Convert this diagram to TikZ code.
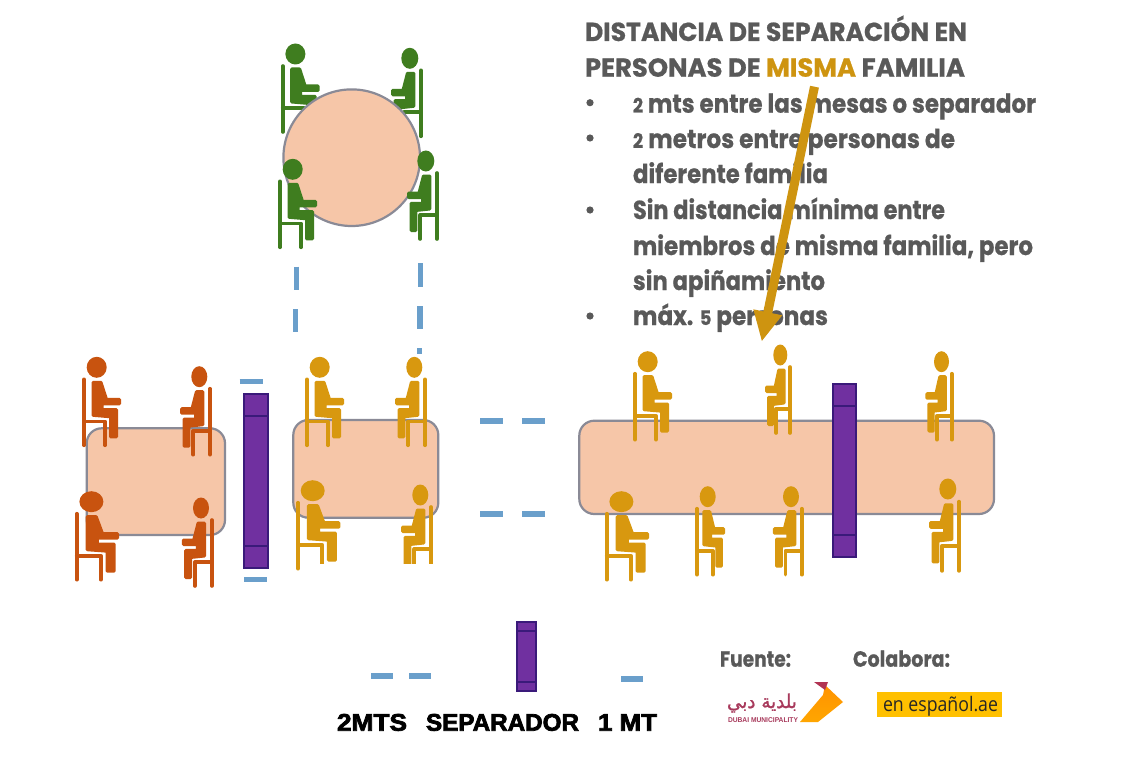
\documentclass[tikz,border=0pt]{standalone}
\usepackage{fontspec}
\usepackage{graphicx}
\usetikzlibrary{arrows.meta}
\TeXXeTstate=1
\newfontfamily\hfont{Poppins}[BoldFont={Poppins Bold},BoldFeatures={FakeBold=0.7}]
\newfontfamily\legfont{Liberation Sans}[BoldFont={Liberation Sans Bold},BoldFeatures={FakeBold=3}]
\newfontfamily\smallfont{Liberation Sans}[BoldFont={Liberation Sans Bold}]
\newfontfamily\arabfont[Script=Arabic,FakeBold=1]{DejaVu Sans}
\newfontfamily\espfont{Open Sans}
\definecolor{txtgrey}{HTML}{595959}
\definecolor{gold}{HTML}{CE9410}
\definecolor{pyellow}{HTML}{D8980F}
\definecolor{porange}{HTML}{C8530F}
\definecolor{pgreen}{HTML}{3F7D1F}
\definecolor{tablefill}{HTML}{F6C6A8}
\definecolor{tableedge}{HTML}{8A8A96}
\definecolor{sepfill}{HTML}{7030A0}
\definecolor{sepedge}{HTML}{3A1A7A}
\definecolor{dashblue}{HTML}{6A9FCB}
\definecolor{dubai}{HTML}{A83A5C}
\tikzset{
  tablebox/.style={draw=tableedge,fill=tablefill,line width=2.2pt,rounded corners=15pt},
  tableround/.style={draw=tableedge,fill=tablefill,line width=2.2pt},
  sepbox/.style={draw=sepedge,fill=sepfill,line width=2pt},
  sepline/.style={draw=sepedge,line width=2pt},
  gap/.style={draw=dashblue,line width=5.5pt},
  txtline/.style={anchor=base west,inner sep=0pt,outer sep=0pt},
  chairline/.style={line width=3.6pt,line cap=round,line join=round},
  bodyfill/.style={line join=round,line width=3pt},
}
% chair x, head y, colour, direction, head rx, x scale, y scale
\newcommand\person[7]{%
  \begin{scope}[shift={(#1,#2)}]
    \fill[#3] (#4*#5+#4*2.7,0) ellipse [x radius=#5pt,y radius=10.5pt];
    \begin{scope}[xscale=#4*#6,yscale=#7]
      \draw[#3,chairline] (0,12)--(0,78);
      \draw[#3,chairline] (0,54)--(21,54)--(21,78);
      \filldraw[#3,bodyfill] (9,15)--(17,15)--(22.5,32)--(35.5,32)--(35.5,36.5)--(18,36.5)--(18,42.3)--(32.5,42.3)--(32.5,69.5)--(26.5,69.5)--(26.5,49.5)--(9,48)--cycle;
    \end{scope}
  \end{scope}}
\newcommand\sepbar[5]{% x1 x2 y1 y2 inset
  \draw[sepbox] (#1,#3) rectangle (#2,#4);
  \draw[sepline] (#1,#3+#5)--(#2,#3+#5);
  \draw[sepline] (#1,#4-#5)--(#2,#4-#5);}
\newcommand\fit[2]{\resizebox{#1pt}{\height}{#2}}
\newcommand\hdig[1]{{\fontsize{20}{20}\selectfont #1}}
\begin{document}
\begin{tikzpicture}[x=1pt,y=-1pt]
\useasboundingbox (0,0) rectangle (1135,757);
\fill[white] (0,0) rectangle (1135,757);

% round table group
\person{282.7}{54}{pgreen}{1}{10}{1}{1}
\person{421}{58.3}{pgreen}{-1}{8.5}{.8}{1}
\draw[tableround] (351.7,157.7) circle [radius=68.3];
\person{280}{169.3}{pgreen}{1}{10}{1}{1}
\person{437}{161}{pgreen}{-1}{8.5}{.8}{1}

% tables
\draw[tablebox] (86.7,428.3) rectangle (225,535);
\draw[tablebox] (293.3,420) rectangle (438.3,517.7);
\draw[tablebox] (579.3,420.7) rectangle (994,514);

% orange family
\person{84}{367.3}{porange}{1}{10}{1}{1}
\person{210}{376.7}{porange}{-1}{8}{.8}{1}
\person{76.7}{501.7}{porange}{1}{12}{1.15}{1}
\person{211.7}{508}{porange}{-1}{8}{.8}{1}

% yellow family, small table
\person{307}{367.3}{pyellow}{1}{10}{1}{1}
\person{425}{367.3}{pyellow}{-1}{8}{.8}{1}
\person{298}{490.7}{pyellow}{1}{12}{1.15}{1}
\person{431}{495}{pyellow}{-1}{8}{.8}{1}
\fill[white] (306,563.5) rectangle (445,585);

% yellow family, long table
\person{635}{361.7}{pyellow}{1}{10}{1}{1}
\person{790}{355}{pyellow}{-1}{7}{.66}{1}
\person{951.7}{361.7}{pyellow}{-1}{7.5}{.7}{1}
\person{606.7}{501.7}{pyellow}{1}{12}{1.15}{1}
\person{697}{496.7}{pyellow}{1}{8}{.75}{1}
\person{801.7}{496.7}{pyellow}{-1}{8}{.77}{1}
\person{959}{489}{pyellow}{-1}{8.5}{.8}{1.05}

% separators
\sepbar{244}{268}{394}{568}{22}
\sepbar{833}{856}{384}{557}{22}
\sepbar{517}{536}{622}{691}{9}

% distance marks
\draw[gap] (239.7,381.7)--(263,381.7);
\draw[gap] (244,579.3)--(267.3,579.3);
\draw[gap] (480,421)--(503,421);
\draw[gap] (522,421)--(545,421);
\draw[gap] (480,514)--(503,514);
\draw[gap] (522,514)--(545,514);
\draw[gap] (296.7,266.7)--(296.7,290);
\draw[gap] (295.7,309)--(295.7,331.7);
\draw[gap] (420.7,263.3)--(420.7,286.7);
\draw[gap] (420,306)--(420,329);
\draw[gap] (419.3,348)--(419.3,354);
\draw[gap] (371,676)--(393,676);
\draw[gap] (409,676)--(431,676);
\draw[gap] (621,679)--(643,679);

% heading
\begin{scope}[every node/.append style={txtline,text=txtgrey,font=\hfont\bfseries\fontsize{26}{26}\selectfont}]
\node (h1) at (585,41) {\fit{382}{DISTANCIA DE SEPARACIÓN EN}};
\node (h2) at (585,76.7) {\fit{380}{PERSONAS DE \textcolor{gold}{MISMA} FAMILIA}};
\end{scope}
\foreach \yy in {102.7,138,210,316}{\fill[txtgrey] (590,\yy) circle [radius=3.6];}
\begin{scope}[every node/.append style={txtline,text=txtgrey,font=\hfont\bfseries\fontsize{26}{26}\selectfont}]
\node (l1) at (633,112.7) {\fit{403}{\hdig{2} mts entre las mesas o separador}};
\node (l2) at (633,148) {\fit{322}{\hdig{2} metros entre personas de}};
\node (l3) at (633,183) {\fit{195}{diferente familia}};
\node (l4) at (633,219) {\fit{312}{Sin distancia mínima entre}};
\node (l5) at (633,255) {\fit{400}{miembros de misma familia, pero}};
\node (l6) at (633,290) {\fit{192}{sin apiñamiento}};
\node (l7) at (633,325) {\fit{195}{máx. \hdig{5} personas}};
\end{scope}

% arrow
\coordinate (arrowstart) at (814.5,86.7);
\coordinate (arrowend) at (761.7,341.7);
\draw[gold,line width=9pt,-{Triangle[length=30pt,width=27pt]}] (arrowstart)--(arrowend);

% legend
\begin{scope}[every node/.append style={txtline,text=black,font=\legfont\bfseries\fontsize{24}{24}\selectfont}]
\node (lg1) at (337,730.7) {\fit{70}{2MTS}};
\node (lg2) at (426,730.7) {\fit{153}{SEPARADOR}};
\node (lg3) at (598,730.7) {\fit{59}{1 MT}};
\end{scope}

% credits
\begin{scope}[every node/.append style={txtline,text=txtgrey,font=\hfont\bfseries\fontsize{22}{22}\selectfont}]
\node (fu) at (720,666.7) {\fit{71}{Fuente:}};
\node (co) at (853,666.7) {\fit{97}{Colabora:}};
\end{scope}
\shade[top color=orange!85!yellow,bottom color=orange!70!yellow] (825,685)--(843,702)--(818,722)--(800,722)--(823,695)--cycle;
\fill[dubai!90!red] (814,682)--(828,682)--(825,690)--cycle;
\node[txtline,text=dubai,font=\arabfont\fontsize{19}{19}\selectfont] (ar) at (727,708) {\fit{70}{\beginR بلدية دبي\endR}};
\node[txtline,text=dubai,font=\smallfont\bfseries\fontsize{7}{7}\selectfont] (dm) at (728,722) {\fit{70}{DUBAI MUNICIPALITY}};
\node[anchor=south west,inner sep=0pt,fill={rgb,255:red,255;green,192;blue,0},minimum width=125pt,minimum height=25pt] (esp) at (877,716.7) {};
\node[txtline,text=black!85,font=\espfont\fontsize{20}{20}\selectfont] (espt) at (883,711) {\fit{115}{en español.ae}};
\end{tikzpicture}
\end{document}
